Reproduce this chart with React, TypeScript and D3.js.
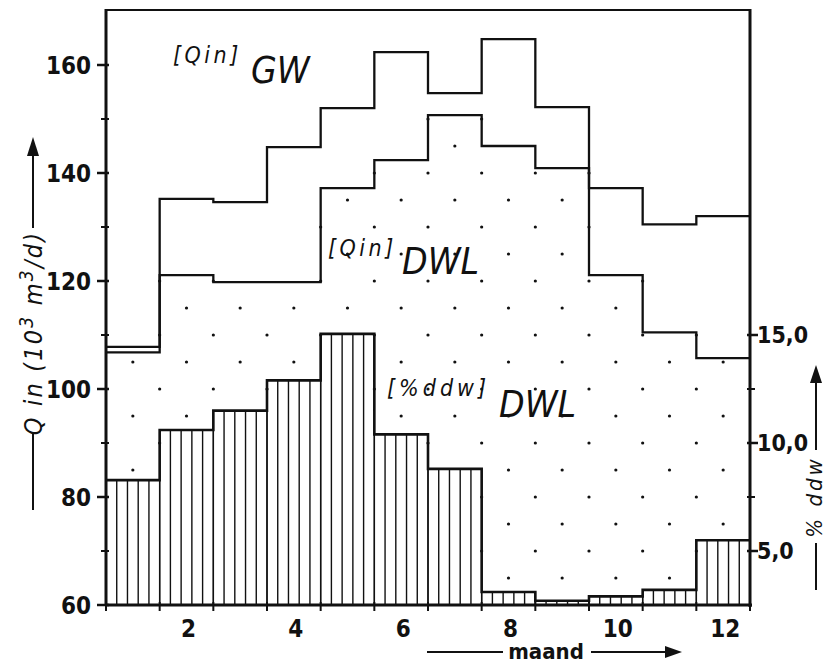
import React from 'react';
import * as d3 from 'd3';

// monthly values
const months = [1, 2, 3, 4, 5, 6, 7, 8, 9, 10, 11, 12];
const qinGW = [107.8, 135.2, 134.6, 144.8, 152, 162.4, 154.8, 164.8, 152.2, 137.2, 130.5, 132];
const qinDWL = [106.8, 121.1, 119.8, 119.8, 137.2, 142.4, 150.7, 145, 140.9, 121.1, 110.5, 105.7];
const pctDdwDWL = [8.28, 10.6, 11.5, 12.9, 15.05, 10.4, 8.8, 3.1, 2.7, 2.9, 3.2, 5.5];

const leftTicks = [60, 80, 100, 120, 140, 160];
const leftMinor = [70, 90, 110, 130, 150];
const rightTicks = [5, 10, 15];
const rightTickLabels = ['5,0', '10,0', '15,0'];
const rightMinor = [7.5, 12.5];
const monthLabels = [2, 4, 6, 8, 10, 12];
const dotRows = d3.range(65, 170, 5);

const tickFont = "'DejaVu Sans Condensed', 'DejaVu Sans', sans-serif";

export default function App() {
  const x = d3.scaleLinear().domain([0.5, 12.5]).range([106, 750]);
  const yQ = d3.scaleLinear().domain([60, 170]).range([605, 11]);
  const yP = d3.scaleLinear().domain([2.5, 30]).range([605, 11]);

  const line = d3.line();
  const steps = (vals: number[], ys: d3.ScaleLinear<number, number>) =>
    line(vals.flatMap((v, i) => [
      [x(months[i] - 0.5), ys(v)] as [number, number],
      [x(months[i] + 0.5), ys(v)] as [number, number],
    ])) as string;

  // bar tops in Q units, for placing the dot pattern
  const barQ = pctDdwDWL.map(p => yQ.invert(yP(p)));

  const dots: { cx: number; cy: number }[] = [];
  dotRows.forEach(q => {
    if (q % 10 === 5) {
      months.forEach((m, i) => {
        if (q > barQ[i] + 0.8 && q < qinDWL[i] - 0.4) dots.push({ cx: x(m), cy: yQ(q) });
      });
    } else {
      months.slice(0, 11).forEach((m, i) => {
        const hi = Math.max(qinDWL[i], qinDWL[i + 1]);
        const lo = Math.min(barQ[i], barQ[i + 1]);
        if (q < hi - 0.4 && q > lo + 0.8) dots.push({ cx: x(m + 0.5), cy: yQ(q) });
      });
    }
  });

  const hatch: { x: number; y: number }[] = [];
  months.forEach((m, i) => {
    for (let k = 0; k <= 5; k++) hatch.push({ x: x(m - 0.5 + k / 5), y: yP(pctDdwDWL[i]) });
  });

  const x0 = x(0.5), x1 = x(12.5), yb = yQ(60), yt = yQ(170);

  return (
    <svg width={829} height={668} style={{ position: 'absolute', left: 0, top: 0, background: '#fff' }}>
      <rect width={829} height={668} fill="#fff" />

      {/* dotted fill between bars and DWL */}
      {dots.map((d, i) => <circle key={i} cx={d.cx} cy={d.cy} r={1.6} fill="#111" />)}

      {/* hatched bars */}
      {hatch.map((h, i) => (
        <line key={i} x1={h.x} x2={h.x} y1={h.y} y2={yb} stroke="#111" strokeWidth={1.4} />
      ))}
      <path d={steps(pctDdwDWL, yP)} fill="none" stroke="#111" strokeWidth={2.6} />

      {/* step lines */}
      <path d={steps(qinDWL, yQ)} fill="none" stroke="#111" strokeWidth={2.3} />
      <path d={steps(qinGW, yQ)} fill="none" stroke="#111" strokeWidth={2.3} />

      {/* frame */}
      <line x1={x0} x2={x1} y1={yt - 1} y2={yt - 1} stroke="#111" strokeWidth={2} />
      <line x1={x0} x2={x0} y1={yt - 2} y2={yb} stroke="#111" strokeWidth={3} />
      <line x1={x1} x2={x1} y1={yt - 2} y2={yb + 2} stroke="#111" strokeWidth={3} />
      <line x1={x0} x2={x1 + 2} y1={yb} y2={yb} stroke="#111" strokeWidth={3} />

      {/* left axis */}
      {leftTicks.map(t => (
        <g key={t}>
          <line x1={x0 - 9} x2={x0 + 3} y1={yQ(t)} y2={yQ(t)} stroke="#111" strokeWidth={2.5} />
          <text x={91} y={yQ(t)} dy="0.36em" textAnchor="end" fontFamily={tickFont}
            fontWeight="bold" fontSize={24} fill="#111">{t}</text>
        </g>
      ))}
      {leftMinor.map(t => (
        <line key={t} x1={x0 - 5} x2={x0 + 3} y1={yQ(t)} y2={yQ(t)} stroke="#111" strokeWidth={2} />
      ))}

      {/* right axis */}
      {rightTicks.map((t, i) => (
        <g key={t}>
          <line x1={x1 - 3} x2={x1 + 8} y1={yP(t)} y2={yP(t)} stroke="#111" strokeWidth={2.5} />
          <text x={757} y={yP(t)} dy="0.36em" fontFamily={tickFont}
            fontWeight="bold" fontSize={23} fill="#111">{rightTickLabels[i]}</text>
        </g>
      ))}
      {rightMinor.map(t => (
        <line key={t} x1={x1 - 3} x2={x1 + 5} y1={yP(t)} y2={yP(t)} stroke="#111" strokeWidth={2} />
      ))}

      {/* bottom axis: ticks on bin edges, labels on even months */}
      {d3.range(0.5, 13, 1).map(b => (
        <line key={b} x1={x(b)} x2={x(b)} y1={yb - 3} y2={yb + 6} stroke="#111" strokeWidth={2} />
      ))}
      {monthLabels.map(m => (
        <text key={m} x={x(m) + 2} y={637} textAnchor="middle" fontFamily={tickFont}
          fontWeight="bold" fontSize={24} fill="#111">{m}</text>
      ))}

      {/* axis titles */}
      <line x1={427} x2={503} y1={652} y2={652} stroke="#111" strokeWidth={2} />
      <text x={546} y={659} textAnchor="middle" fontFamily={tickFont} fontWeight="bold"
        fontSize={22} fill="#111">maand</text>
      <line x1={591} x2={668} y1={652} y2={652} stroke="#111" strokeWidth={2} />
      <path d="M665,646 L682,652 L665,658 Z" fill="#111" />

      <line x1={33} x2={33} y1={510} y2={433} stroke="#111" strokeWidth={2} />
      <text transform="translate(42,333) rotate(-90)" textAnchor="middle" fontFamily={tickFont}
        fontStyle="italic" fontSize={25} letterSpacing={2.2} fill="#111">
        Q in (10<tspan fontSize={19} dy={-9}>3</tspan><tspan dy={9}> m</tspan>
        <tspan fontSize={19} dy={-9}>3</tspan><tspan dy={9}>/d)</tspan>
      </text>
      <line x1={33} x2={33} y1={228} y2={150} stroke="#111" strokeWidth={2} />
      <path d="M27,156 L33,137 L39,156 Z" fill="#111" />

      <line x1={816} x2={816} y1={590} y2={543} stroke="#111" strokeWidth={2} />
      <text transform="translate(822,497) rotate(-90)" textAnchor="middle" fontFamily={tickFont}
        fontStyle="italic" fontSize={22} letterSpacing={3} fill="#111">% ddw</text>
      <line x1={816} x2={816} y1={450} y2={378} stroke="#111" strokeWidth={2} />
      <path d="M810,383 L816,365 L822,383 Z" fill="#111" />

      {/* in-plot labels */}
      <g fontFamily={tickFont} fontStyle="italic" fill="#111">
        <text x={173} y={63} fontSize={23} letterSpacing={3.5}>[Qin]</text>
        <text x={251} y={83} fontSize={37}>GW</text>
        <text x={328} y={256} fontSize={23} letterSpacing={3.5}>[Qin]</text>
        <text x={402} y={274} fontSize={37}>DWL</text>
        <text x={387} y={396} fontSize={23} letterSpacing={4}>[%ddw]</text>
        <text x={499} y={417} fontSize={37}>DWL</text>
      </g>
    </svg>
  );
}
